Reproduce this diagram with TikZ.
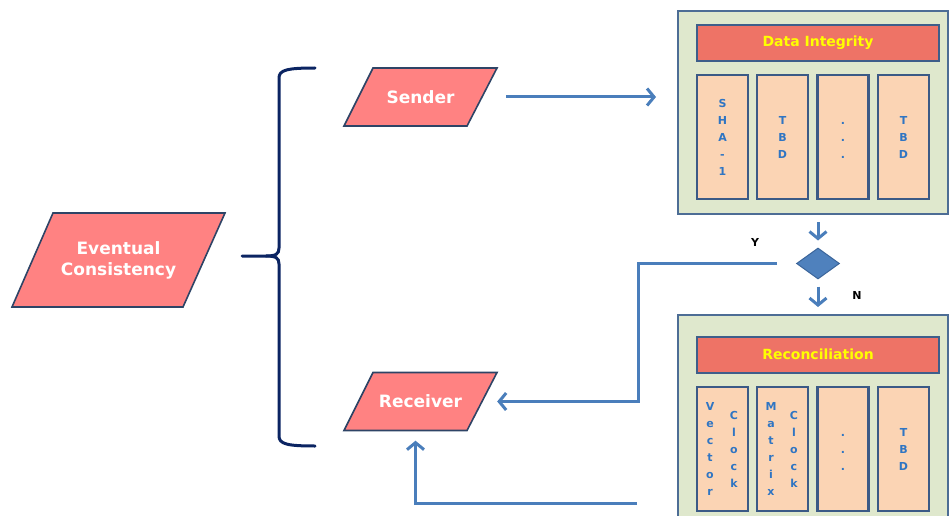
\documentclass[tikz,border=0pt]{standalone}
\usepackage{fontspec}
\setmainfont{DejaVu Sans}
\usetikzlibrary{shapes.geometric,arrows.meta,calc}

\definecolor{parfill}{HTML}{FF8282}
\definecolor{pardraw}{HTML}{2E4466}
\definecolor{boxfill}{HTML}{DFE8CD}
\definecolor{boxdraw}{HTML}{4D6D95}
\definecolor{hdrfill}{HTML}{EE7366}
\definecolor{hdrdraw}{HTML}{3E5E8A}
\definecolor{hdrtext}{HTML}{FFFF00}
\definecolor{colfill}{HTML}{FBD4B4}
\definecolor{coldraw}{HTML}{3B5A86}
\definecolor{coltext}{HTML}{2F75C3}
\definecolor{flowc}{HTML}{4A7EBB}
\definecolor{decfill}{HTML}{4F81BD}
\definecolor{decdraw}{HTML}{3B659A}
\definecolor{bracec}{HTML}{0B2462}

\tikzset{
  parshape/.style={fill=parfill, draw=pardraw, line width=1.6pt, line join=miter},
  partext/.style={rectangle, inner sep=0pt, text=white, align=center},
  outerbox/.style={rectangle, draw=boxdraw, fill=boxfill, line width=2.2pt,
    minimum width=270pt, anchor=north west, inner sep=0pt},
  header/.style={rectangle, draw=hdrdraw, fill=hdrfill, line width=2pt,
    minimum width=242pt, minimum height=36pt, text=hdrtext,
    font=\bfseries\fontsize{14}{16}\selectfont, inner sep=0pt},
  col/.style={rectangle, draw=coldraw, fill=colfill, line width=2.4pt,
    minimum width=51pt, minimum height=124pt, inner sep=0pt},
  letters/.style={text=coltext, font=\bfseries\fontsize{11}{17}\selectfont,
    align=center, inner sep=0pt},
  flow/.style={draw=flowc, line width=3pt,
    -{Straight Barb[length=7pt,width=17pt]}},
  yn/.style={font=\bfseries\fontsize{11}{13}\selectfont, text=black},
  bracestyle/.style={draw=bracec, line width=3pt, line cap=round}
}

\begin{document}
\begin{tikzpicture}[x=1pt,y=-1pt]
\useasboundingbox (0,0) rectangle (950,516);

% input / output parallelograms, drawn round their centres
\coordinate (ecc) at (118.5,260);
\coordinate (senderc) at (420.5,97);
\coordinate (receiverc) at (420.5,401.5);
\draw[parshape] ($(ecc)+(-65.5,-47)$) -- ($(ecc)+(106.5,-47)$)
  -- ($(ecc)+(64.5,47)$) -- ($(ecc)+(-106.5,47)$) -- cycle;
\draw[parshape] ($(senderc)+(-47.5,-29)$) -- ($(senderc)+(76.5,-29)$)
  -- ($(senderc)+(46.5,29)$) -- ($(senderc)+(-76.5,29)$) -- cycle;
\draw[parshape] ($(receiverc)+(-47.5,-29)$) -- ($(receiverc)+(76.5,-29)$)
  -- ($(receiverc)+(46.5,29)$) -- ($(receiverc)+(-76.5,29)$) -- cycle;
\node[partext, minimum width=171pt, minimum height=94pt,
  font=\bfseries\fontsize{17}{21}\selectfont] (ec) at (ecc)
  {Eventual\\Consistency};
\node[partext, minimum width=123pt, minimum height=58pt,
  font=\bfseries\fontsize{17}{20}\selectfont] (sender) at (senderc) {Sender};
\node[partext, minimum width=123pt, minimum height=58pt,
  font=\bfseries\fontsize{17}{20}\selectfont] (receiver) at (receiverc) {Receiver};

% curly brace joining the two roles
\draw[bracestyle] (315,68) .. controls (287,68) and (279,70) .. (279,78)
  -- (279,248) .. controls (279,254) and (276,256) .. (266,256) -- (242,256);
\draw[bracestyle] (266,256) .. controls (276,256) and (279,258) .. (279,264)
  -- (279,436) .. controls (279,444) and (287,446) .. (315,446);

% data integrity block
\node[outerbox, minimum height=203pt] (di) at (677,10) {};
\node[header] (diH) at (818,43) {Data Integrity};
\node[col] (di1) at (722.5,137) {};
\node[col] (di2) at (782.5,137) {};
\node[col] (di3) at (843,137) {};
\node[col] (di4) at (903.5,137) {};
\node[letters] (di1t) at (di1) {S\\H\\A\\-\\1};
\node[letters] (di2t) at (di2) {T\\B\\D};
\node[letters] (di3t) at (843,140) {.\\.\\.};
\node[letters] (di4t) at (di4) {T\\B\\D};

% reconciliation block
\node[outerbox, minimum height=214pt] (rc) at (677,314) {};
\node[header] (rcH) at (818,354.5) {Reconciliation};
\node[col] (rc1) at (722.5,449) {};
\node[col] (rc2) at (782.5,449) {};
\node[col] (rc3) at (843,449) {};
\node[col] (rc4) at (903.5,449) {};
\node[letters] (rc1a) at (710,449) {V\\e\\c\\t\\o\\r};
\node[letters] (rc1b) at (734,449) {C\\l\\o\\c\\k};
\node[letters] (rc2a) at (771,449) {M\\a\\t\\r\\i\\x};
\node[letters] (rc2b) at (794,449) {C\\l\\o\\c\\k};
\node[letters] (rc3t) at (843,452) {.\\.\\.};
\node[letters] (rc4t) at (rc4) {T\\B\\D};

% decision
\node[diamond, fill=decfill, draw=decdraw, line width=1pt, inner sep=0pt,
  minimum width=43pt, minimum height=31pt] (dec) at (818,263.5) {};
\node[yn] (ylab) at (755,242) {Y};
\node[yn] (nlab) at (857,295) {N};

% connectors
\coordinate (yturn) at (638,263.5);
\coordinate (nstart) at (637,503);

\draw[flow, shorten <=24pt, shorten >=21pt] (sender.east) -- (sender.east -| di.west);
\draw[flow, shorten <=7pt, shorten >=7pt] (di.south -| dec.north) -- (dec.north);
\draw[flow, shorten <=7pt, shorten >=7pt] (dec.south) -- (dec.south |- rc.north);
\draw[flow, shorten <=19pt, shorten >=15pt] (dec.west) -- (yturn) |- (receiver.east);
\draw[flow, shorten >=10pt] (nstart) -| ([xshift=-5pt]receiver.south);

\end{tikzpicture}
\end{document}
